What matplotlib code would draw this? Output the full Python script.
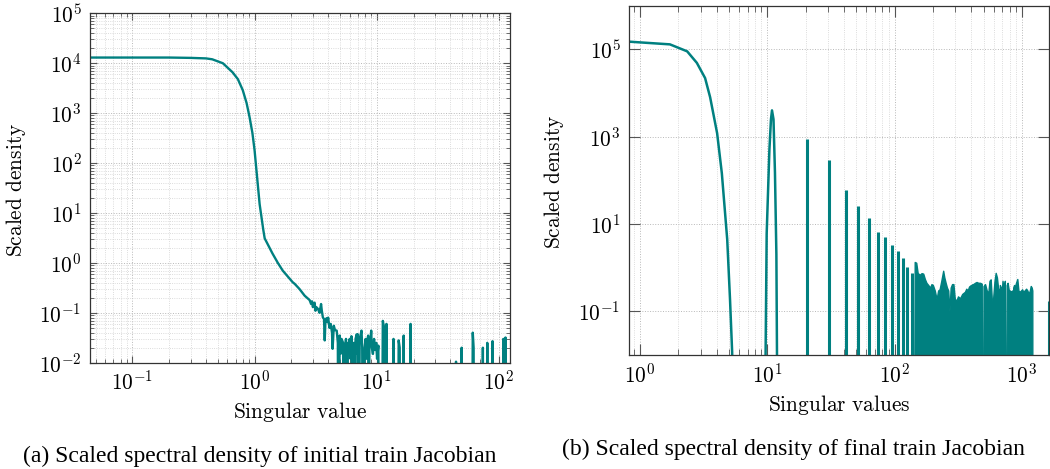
import numpy as np
import matplotlib
matplotlib.use('Agg')
import matplotlib.pyplot as plt
from matplotlib.ticker import LogLocator, NullLocator, FixedLocator, FuncFormatter, NullFormatter

plt.rcParams['mathtext.fontset'] = 'cm'
plt.rcParams['font.family'] = ['Liberation Serif', 'DejaVu Serif']

TEAL = '#008080'
FLOOR = 1e-5  # stand-in for zero density on the log axis

# (a) initial train Jacobian: scaled spectral density vs singular value
init_x = [0.045, 0.1, 0.2, 0.3, 0.4, 0.45, 0.55, 0.66, 0.73, 0.80, 0.86, 0.91, 0.96, 1.0,
          1.06, 1.10, 1.14, 1.18, 1.21, 1.30, 1.40, 1.55, 1.70, 1.85, 2.05, 2.13, 2.33, 2.47,
          2.57, 2.82, 2.9, 2.95, 3.0, 3.05, 3.1, 3.15, 3.2, 3.3, 3.4, 3.5, 3.55, 3.62, 3.7,
          3.75, 3.8, 3.88, 3.95, 4.0, 4.1, 4.2, 4.3, 4.35, 4.45, 4.55, 4.7, 4.8, 4.85, 4.97,
          5.05, 5.15, 5.3, 5.4, 5.5, 5.6, 5.7, 5.8, 5.9, 6.0, 6.1, 6.2, 6.3, 6.4, 6.5, 6.6,
          6.7, 6.85, 6.95, 7.0, 7.1, 7.25, 7.5, 7.6, 7.7, 7.85, 7.95, 8.1, 8.2, 8.3, 8.5, 8.6,
          8.7, 8.85, 9.0, 9.1, 9.3, 9.5, 9.7, 9.9, 10.05, 10.3, 10.45, 11.0, 11.2, 11.6, 11.75,
          12.0, 12.3, 13.5, 13.7, 13.9, 14.9, 15.1, 15.4, 15.6, 16.4, 16.6, 16.9, 18.6, 18.9,
          19.2, 44.0, 44.5, 45.0, 49.0, 49.5, 50.0, 60.0, 61.0, 62.0, 62.5, 73.0, 73.8, 74.5,
          79.5, 80.2, 81.0, 87.5, 88.5, 89.5, 107.0, 108.5, 110.0, 112.0, 113.0, 114.0, 123.0]
init_y = [1.3e4, 1.3e4, 1.3e4, 1.28e4, 1.25e4, 1.2e4, 1.0e4, 6.6e3, 4.8e3, 2.9e3, 1.6e3, 830, 400, 180,
          39, 15, 8.1, 4.5, 3.1, 2.2, 1.55, 1.0, 0.7, 0.55, 0.41, 0.38, 0.3, 0.25,
          0.22, 0.18, 0.15, 0.17, 0.13, 0.15, 0.16, 0.11, 0.13, 0.12, 0.10, 0.15, 0.11, 0.081, 0.075,
          0.028, 0.07, 0.078, 0.065, 0.08, 0.05, 0.06, 0.04, 0.019, 0.055, 0.045, 0.044, 0.025, 0, 0.035,
          0.015, 0.03, 0.025, 0, 0.02, 0.03, 0, 0.025, 0.02, 0.03, 0.012, 0.034, 0, 0.02, 0.025, 0,
          0.03, 0.037, 0.015, 0.037, 0, 0.03, 0.044, 0.02, 0, 0, 0.02, 0.03, 0.012, 0.025, 0.035, 0,
          0.03, 0.025, 0.044, 0.02, 0.015, 0.03, 0.018, 0.025, 0.012, 0.022, 0, 0, 0.069, 0.045, 0,
          0.06, 0, 0, 0.03, 0, 0, 0.028, 0.02, 0, 0, 0.035, 0, 0, 0.06,
          0, 0, 0.0105, 0, 0, 0.02, 0, 0, 0.04, 0.02, 0, 0, 0.02, 0,
          0, 0.025, 0, 0, 0.027, 0, 0, 0.03, 0, 0, 0.032, 0, 0]

# (b) final train Jacobian: bulk, first hump, isolated spikes, dense tail
fin_x = [0.82, 1.72, 2.35, 2.8, 3.25, 3.56, 4.04, 4.4, 4.85, 5.1, 5.3, 5.5,
         9.5, 9.9, 10.4, 10.7, 10.9, 11.2, 11.5, 11.8, 12.1]
fin_y = [1.5e5, 1.3e5, 9e4, 4.9e4, 2.2e4, 8e3, 1.2e3, 145, 4.4, 0.19, 0.012, 0,
         0, 6, 500, 2500, 4000, 2500, 150, 2, 0]

spike_x = [20.5, 30.5, 41.5, 51.9, 63.2, 73.6, 84.6, 96, 107, 117, 126, 138, 1620]
spike_y = [900, 295, 59, 25.7, 14, 6.5, 5.0, 3.3, 2.4, 1.67, 1.04, 0.76, 0.17]

tail_x = [142, 144, 148, 152, 158, 163, 168, 173, 178, 184, 190, 195, 200, 207, 214, 220, 226,
          233, 241, 246, 252, 258, 264, 270, 276, 283, 290, 297, 305, 315, 327, 340, 357, 366,
          375, 385, 398, 401, 405, 408, 415, 428, 441, 455, 470, 484, 489, 495, 500, 514, 530,
          545, 557, 569, 580, 583, 588, 595, 610, 623, 637, 650, 660, 663, 667, 672, 685, 692,
          705, 720, 735, 746, 754, 760, 773, 790, 794, 799, 805, 820, 840, 845, 850, 855, 868,
          883, 900, 921, 940, 960, 985, 1005, 1026, 1050, 1080, 1105, 1130, 1155, 1175, 1195,
          1208, 1210]
tail_y = [0, 1.35, 1.3, 0.75, 0.69, 0.75, 0.73, 0.55, 0.45, 0.4, 0.35, 0.42, 0.4, 0.3, 0.19, 0.3, 0.32,
          0.5, 0.85, 0.6, 0.45, 0.35, 0.3, 0.1, 0.35, 0.42, 0.42, 0.2, 0.17, 0.22, 0.2, 0.25, 0.28, 0.33,
          0.3, 0.37, 0.4, 0, 0, 0.42, 0.42, 0.45, 0.47, 0.45, 0.45, 0.43, 0, 0, 0.38, 0.42, 0.3,
          0.26, 0.5, 0.54, 0.2, 0, 0, 0.2, 0.5, 0.76, 0.6, 0.35, 0.3, 0, 0, 0.4, 0.35, 0.22,
          0.5, 0.3, 0.5, 0, 0, 0.4, 0.45, 0.3, 0, 0, 0.3, 0.28, 0.3, 0, 0, 0.35, 0.4,
          0.37, 0.45, 0.55, 0.3, 0.28, 0.3, 0.32, 0.28, 0.3, 0.33, 0.3, 0.25, 0.3, 0.38, 0.35,
          0.3, 0]

FS = 15.4


def floor0(v):
    v = np.asarray(v, dtype=float)
    return np.where(v > 0, v, FLOOR)


def pow10(v, pos):
    return r'$10^{%d}$' % int(round(np.log10(v)))


def style_axes(ax, major_len):
    ax.set_axisbelow(True)
    for s in ax.spines.values():
        s.set_linewidth(0.9)
        s.set_color('#333333')
    ax.tick_params(which='both', direction='in', top=True, right=True, colors='#555555',
                   labelcolor='black', labelsize=FS)
    ax.tick_params(which='major', length=major_len, width=0.8, pad=6)
    ax.tick_params(which='minor', length=major_len * 0.55, width=0.6)
    ax.xaxis.set_major_formatter(FuncFormatter(pow10))
    ax.yaxis.set_major_formatter(FuncFormatter(pow10))
    ax.xaxis.set_minor_formatter(NullFormatter())
    ax.yaxis.set_minor_formatter(NullFormatter())


fig = plt.figure(figsize=(10.5, 4.69), dpi=100)
ax1 = fig.add_axes([0.0857, 0.2266, 0.400, 0.745])
ax2 = fig.add_axes([0.599, 0.2431, 0.4005, 0.7448])

# panel (a)
ax1.plot(init_x, floor0(init_y), color=TEAL, lw=1.7, solid_joinstyle='round')
ax1.set_xscale('log')
ax1.set_yscale('log')
ax1.set_xlim(0.045, 123)
ax1.set_ylim(1e-2, 1e5)
ax1.yaxis.set_major_locator(LogLocator(base=10, numticks=20))
ax1.yaxis.set_minor_locator(LogLocator(base=10, subs=np.arange(2, 10), numticks=20))
ax1.xaxis.set_minor_locator(LogLocator(base=10, subs=np.arange(2, 10), numticks=20))
ax1.grid(True, which='major', ls=':', color='#b8b8b8', lw=0.7)
ax1.grid(True, which='minor', ls=':', color='#d0d0d0', lw=0.6)
style_axes(ax1, 5)
ax1.set_xlabel(r'$\mathrm{Singular\ value}$', fontsize=FS, va='center')
ax1.set_ylabel(r'$\mathrm{Scaled\ density}$', fontsize=FS, va='center')
ax1.xaxis.set_label_coords(0.5, -0.141)
ax1.yaxis.set_label_coords(-0.176, 0.494)

# panel (b)
ax2.plot(fin_x, floor0(fin_y), color=TEAL, lw=1.8, solid_joinstyle='round')
ax2.vlines(spike_x, FLOOR, spike_y, color=TEAL, lw=2.2)
ax2.fill_between(tail_x, FLOOR, floor0(tail_y), color=TEAL, lw=1.0, edgecolor=TEAL)
ax2.set_xscale('log')
ax2.set_yscale('log')
ax2.set_xlim(0.82, 1648)
ax2.set_ylim(1e-2, 1e6)
ax2.yaxis.set_major_locator(FixedLocator([1e-1, 1e1, 1e3, 1e5]))
ax2.yaxis.set_minor_locator(NullLocator())
ax2.xaxis.set_minor_locator(LogLocator(base=10, subs=np.arange(2, 10), numticks=20))
ax2.grid(True, which='major', ls=':', color='#b8b8b8', lw=0.7)
ax2.grid(True, which='minor', axis='x', ls=':', color='#d0d0d0', lw=0.6)
style_axes(ax2, 8)
ax2.set_xlabel(r'$\mathrm{Singular\ values}$', fontsize=FS, va='center')
ax2.set_ylabel(r'$\mathrm{Scaled\ density}$', fontsize=FS, va='center')
ax2.xaxis.set_label_coords(0.5, -0.143)
ax2.yaxis.set_label_coords(-0.178, 0.495)

fig.text(260 / 1050, 1 - 456 / 469, '(a) Scaled spectral density of initial train Jacobian',
         ha='center', va='center', fontsize=17)
fig.text(793 / 1050, 1 - 449 / 469, '(b) Scaled spectral density of final train Jacobian',
         ha='center', va='center', fontsize=17)

fig.savefig('out.png', dpi=100, facecolor='white')
